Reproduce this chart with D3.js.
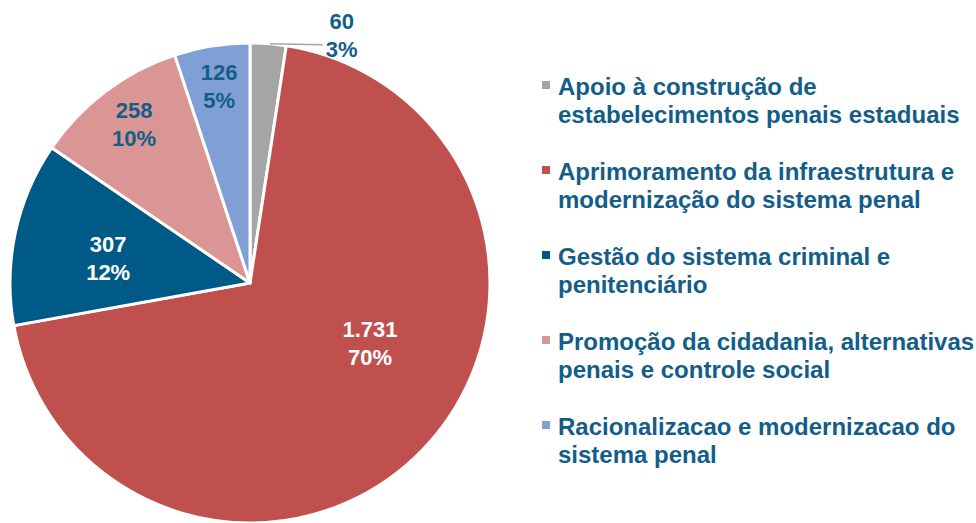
<!DOCTYPE html>
<html><head><meta charset="utf-8">
<script src="https://cdn.jsdelivr.net/npm/d3@7"></script>
<style>body{margin:0;background:#fff}svg{display:block}</style>
</head><body>
<svg id="c" width="976" height="523"></svg>
<script>
const categories = [
  "Apoio à construção de estabelecimentos penais estaduais",
  "Aprimoramento da infraestrutura e modernização do sistema penal",
  "Gestão do sistema criminal e penitenciário",
  "Promoção da cidadania, alternativas penais e controle social",
  "Racionalizacao e modernizacao do sistema penal"
];
const legendLines = [
  ["Apoio à construção de", "estabelecimentos penais estaduais"],
  ["Aprimoramento da infraestrutura e", "modernização do sistema penal"],
  ["Gestão do sistema criminal e", "penitenciário"],
  ["Promoção da cidadania, alternativas", "penais e controle social"],
  ["Racionalizacao e modernizacao do", "sistema penal"]
];
const values = [60, 1731, 307, 258, 126];
const valueLabels = ["60", "1.731", "307", "258", "126"];
const percentLabels = ["3%", "70%", "12%", "10%", "5%"];
const colors = ["#A5A5A5", "#C0504D", "#005A87", "#D99694", "#7F9FD5"];
const labelColors = ["#135D89", "#FFFFFF", "#FFFFFF", "#135D89", "#135D89"];

const svg = d3.select("#c");
const cx = 250, cy = 283, R = 240;
const textColor = "#135D89";
const font = "'Liberation Sans', Arial, sans-serif";

const pie = d3.pie().sort(null).value(d => d)(values);
const arc = d3.arc().innerRadius(0).outerRadius(R);
const g = svg.append("g").attr("transform", `translate(${cx},${cy})`);

g.selectAll("path").data(pie).join("path")
  .attr("d", arc)
  .attr("fill", (d, i) => colors[i])
  .attr("stroke", "#fff").attr("stroke-width", 3).attr("stroke-linejoin", "round");

// label placement: fraction of radius and angle tweak from slice mid-angle (radians)
const labelR = [1.10, 0.559, 0.60, 0.82, 0.831];
const angleShift = [0.279, -0.308, -0.037, 0.016, 0.004];

pie.forEach((d, i) => {
  const a = (d.startAngle + d.endAngle) / 2 + angleShift[i];
  const r = R * labelR[i];
  const x = r * Math.sin(a), y = -r * Math.cos(a);
  const t = g.append("text")
    .attr("text-anchor", "middle")
    .attr("font-family", font).attr("font-weight", "bold")
    .attr("font-size", 22).attr("fill", labelColors[i]);
  t.append("tspan").attr("x", x).attr("y", y - 6).text(valueLabels[i]);
  t.append("tspan").attr("x", x).attr("y", y + 22).text(percentLabels[i]);
  if (i === 0) {
    const ea = d.startAngle + 0.083;
    const y1 = -R * Math.cos(ea);
    g.append("line")
      .attr("x1", R * Math.sin(ea)).attr("y1", y1)
      .attr("x2", x - 19).attr("y2", y1 + 1)
      .attr("stroke", "#A5A5A5").attr("stroke-width", 1.5);
  }
});

// legend
const lg = svg.append("g").attr("transform", "translate(542,0)");
legendLines.forEach((lines, i) => {
  const y0 = 85 + i * 85;
  lg.append("rect").attr("x", 0).attr("y", y0 - 4).attr("width", 8).attr("height", 8)
    .attr("fill", colors[i]);
  lines.forEach((ln, j) => {
    lg.append("text").attr("x", 16).attr("y", y0 + 10 + j * 28)
      .attr("font-family", font).attr("font-weight", "bold").attr("font-size", 24)
      .attr("fill", textColor).text(ln);
  });
});
</script>
</body></html>
